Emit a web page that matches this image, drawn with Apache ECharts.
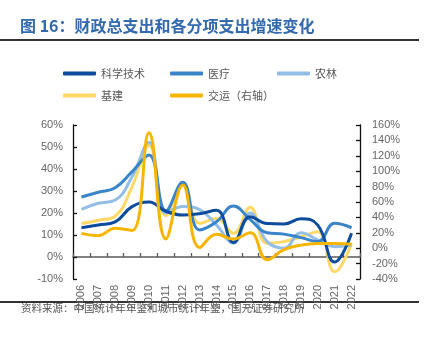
<!DOCTYPE html>
<html>
<head>
<meta charset="utf-8">
<script src="https://cdn.jsdelivr.net/npm/echarts@6/dist/echarts.min.js"></script>
<style>
  html, body { margin: 0; padding: 0; background: #fff; }
  #chart { width: 430px; height: 337px; }
</style>
</head>
<body>
<div id="chart"></div>
<script>
// Annual growth of fiscal expenditure by category (%)
const years = ['2006','2007','2008','2009','2010','2011','2012','2013','2014','2015','2016','2017','2018','2019','2020','2021','2022'];
const sciTech   = [13.3, 14.5, 16.0, 22.9, 25.0, 20.8, 19.1, 19.7, 21.2, 6.6, 18.3, 15.2, 15.0, 17.4, 14.5, -2.3, 10.8];
const medical   = [27.3, 29.4, 31.5, 38.8, 46.4, 21.0, 34.0, 12.3, 16.0, 23.2, 17.0, 11.0, 10.4, 8.8, 7.0, 15.3, 13.3];
const agri      = [21.7, 24.4, 25.9, 36.5, 52.2, 20.0, 23.0, 21.5, 14.5, 6.3, 20.0, 7.0, 4.0, 11.0, 7.7, 4.7, 5.5];
const infra     = [15.2, 16.7, 18.6, 32.0, 50.8, 18.8, 33.5, 15.3, 17.5, 10.8, 22.6, 6.2, 7.0, 9.2, 11.5, -6.7, 6.2];
const transport = [19.3, 16.2, 26.0, 23.0, 150.0, 12.0, 82.0, 1.0, 18.0, 12.0, 20.0, -15.0, -2.0, 4.0, 6.0, 6.0, 5.0];

const leftTicks = { min: -10, max: 60, interval: 10 };
const rightTicks = { min: -40, max: 160, interval: 20 };

const names = ['科学技术', '医疗', '农林', '基建', '交运（右轴）'];
const colors = ['#0d4c9c', '#3a84c9', '#93bee6', '#ffd866', '#f7b500'];
const values = [sciTech, medical, agri, infra, transport];

const chart = echarts.init(document.getElementById('chart'), null, { renderer: 'canvas' });

const labelFont = { color: '#666', fontSize: 11, fontFamily: 'Liberation Sans, Arial, sans-serif' };
const cjk = 'Noto Sans CJK SC, sans-serif';

// one legend block per entry so that entries sit in fixed columns
const legendPos = [[63, 68], [170, 68], [277, 68], [63, 90], [170, 90]];
const legends = names.map((n, i) => ({
  data: [n],
  left: legendPos[i][0],
  top: legendPos[i][1],
  padding: 0,
  icon: 'roundRect',
  itemWidth: 33,
  itemHeight: 4,
  selectedMode: false,
  textStyle: { color: '#595959', fontSize: 11, fontFamily: cjk }
}));

const series = names.map((n, i) => ({
  name: n,
  type: 'line',
  yAxisIndex: i === 4 ? 1 : 0,
  data: values[i],
  smooth: 0.45,
  symbol: 'none',
  lineStyle: { color: colors[i], width: 3 },
  itemStyle: { color: colors[i] },
  z: i === 4 ? 3 : 2 + (4 - i) * 0.1
}));

const axisLine = { show: true, lineStyle: { color: '#111', width: 1.3 } };
const axisTick = { show: true, inside: true, length: 4, lineStyle: { color: '#111', width: 1.3 } };

chart.setOption({
  animation: false,
  backgroundColor: '#fff',
  grid: { left: 73, right: 70, top: 125, bottom: 58 },
  legend: legends,
  xAxis: {
    type: 'category',
    data: years,
    boundaryGap: true,
    axisLine: { show: true, onZero: true, onZeroAxisIndex: 0, lineStyle: { color: '#595959', width: 1.5 } },
    axisTick: { show: true, inside: true, length: 4, lineStyle: { color: '#595959', width: 1.3 } },
    axisLabel: Object.assign({ rotate: 90, margin: 6, interval: 0 }, labelFont),
    splitLine: { show: false }
  },
  yAxis: [
    {
      type: 'value',
      position: 'left',
      min: leftTicks.min, max: leftTicks.max, interval: leftTicks.interval,
      axisLine: axisLine,
      axisTick: axisTick,
      axisLabel: Object.assign({ formatter: '{value}%', margin: 10 }, labelFont),
      splitLine: { show: false }
    },
    {
      type: 'value',
      position: 'right',
      min: rightTicks.min, max: rightTicks.max, interval: rightTicks.interval,
      axisLine: axisLine,
      axisTick: axisTick,
      axisLabel: Object.assign({ formatter: '{value}%', margin: 12 }, labelFont),
      splitLine: { show: false }
    }
  ],
  series: series,
  graphic: [
    {
      type: 'text', left: 20, top: 18,
      style: { text: '图 16：财政总支出和各分项支出增速变化', fill: '#3369ad', font: 'bold 16px ' + cjk }
    },
    {
      type: 'rect', shape: { x: 0, y: 39, width: 419, height: 2 },
      style: { fill: '#333' }
    },
    {
      type: 'rect', shape: { x: 0, y: 301, width: 419, height: 2 },
      style: { fill: '#333' }
    },
    {
      type: 'text', left: 21, top: 303,
      style: { text: '资料来源：中国统计年年鉴和城市统计年鉴，国元证券研究所', fill: '#555', font: '10.5px ' + cjk }
    }
  ]
});
</script>
</body>
</html>
